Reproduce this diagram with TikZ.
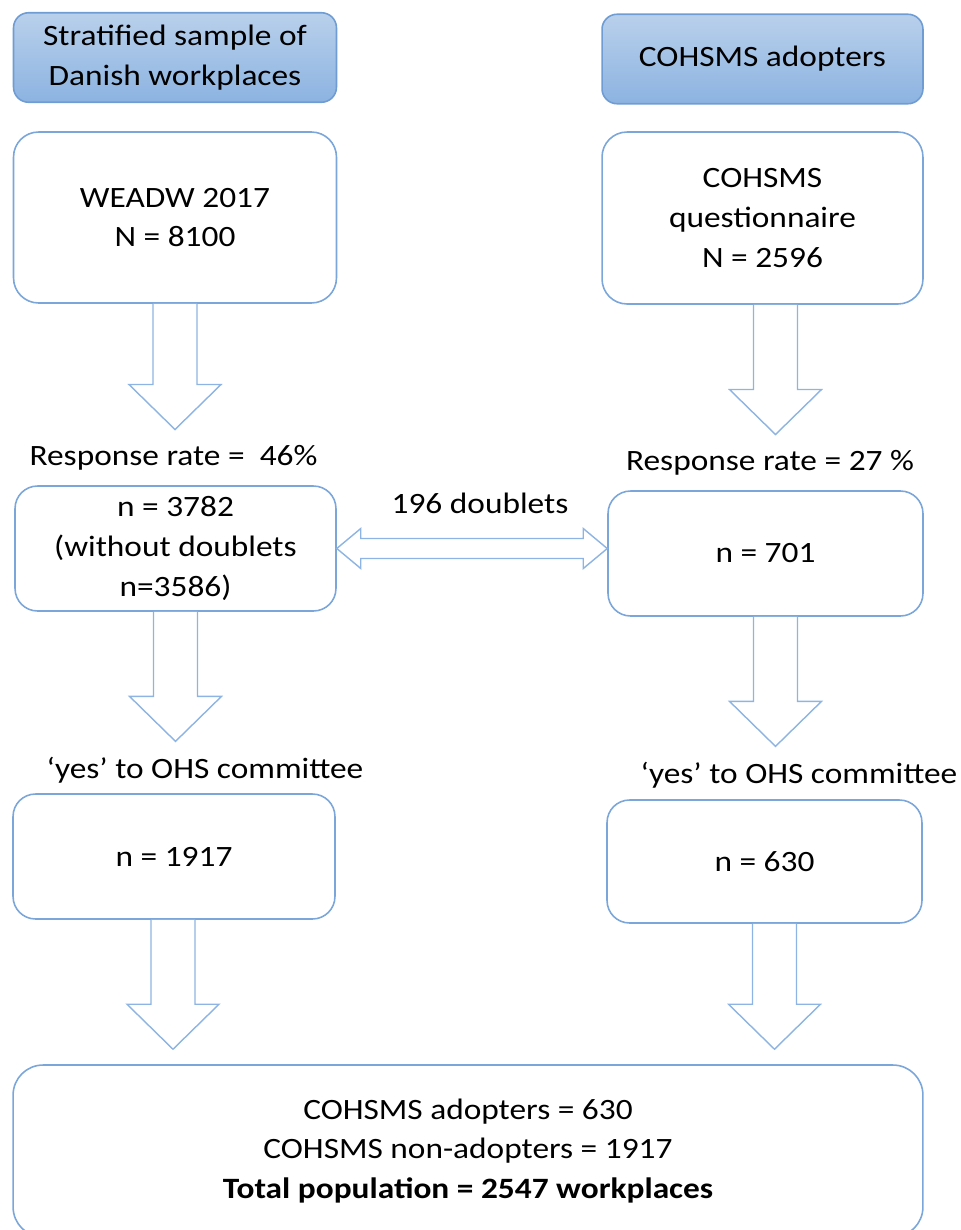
\documentclass[tikz,border=0pt]{standalone}
\usepackage{fontspec}
\setmainfont{Carlito}[FakeStretch=1.13]
\usepackage{xcolor}
\definecolor{boxline}{HTML}{7BA6DA}
\definecolor{arrline}{HTML}{8DB4E2}
\definecolor{hdrline}{HTML}{6F9CD3}
\definecolor{hdrtop}{HTML}{B9D0EB}
\definecolor{hdrbot}{HTML}{8CB3E1}
\usepackage{tikz}
\usetikzlibrary{calc}
\tikzset{
  hdr/.style   ={draw=hdrline,top color=hdrtop,bottom color=hdrbot,
                 rounded corners=0.3cm,line width=0.9pt,
                 minimum width=6.46cm,minimum height=1.79cm,align=center},
  stage/.style ={draw=boxline,fill=white,rounded corners=0.45cm,
                 line width=0.9pt,minimum width=6.46cm,
                 minimum height=2.5cm,align=center},
  lbl/.style   ={inner sep=0pt,anchor=base},
  blockarrow/.style={draw=arrline,fill=white,line width=0.8pt},
}
% hollow block arrow from the bottom of #2 down to just above #3
\newcommand{\blockdown}[3][0]{%
  \coordinate (sh) at ($(#2.south)+(#1,0)$);
  \coordinate (tp) at ($(sh |- #3.north)+(0,-15)$);
  \draw[blockarrow] ($(sh)+(-22,0)$) -- ($(tp)+(-22,-45)$) -- ($(tp)+(-46,-45)$)
    -- (tp) -- ($(tp)+(46,-45)$) -- ($(tp)+(22,-45)$) -- ($(sh)+(22,0)$);}

\begin{document}
\begin{tikzpicture}[x=0.02cm,y=-0.02cm,font=\fontsize{16.8}{22.6}\selectfont]
\useasboundingbox (0,0) rectangle (960,1230);
%---------------- headers
\node[hdr] (hdrL) at (175,57.5) {Stratified sample of\\Danish workplaces};
\node[hdr,minimum width=6.42cm] (hdrR) at (762.5,59) {COHSMS adopters};
%---------------- left column
\node[stage,minimum height=3.42cm,rounded corners=0.5cm] (wead) at (175,217.5) {WEADW 2017\\N = 8100};
\node[lbl] (rateL) at (173.5,465) {Response rate =\ \ 46\%};
\node[stage,minimum width=6.42cm] (respL) at (175.5,548.5) {n = 3782\\(without doublets\\n=3586)};
\node[lbl] (yesL) at (205,778) {‘yes’ to OHS committee};
\node[stage,minimum width=6.44cm] (ohsL) at (174,856.5) {n = 1917};
%---------------- right column
\node[stage,minimum width=6.42cm,minimum height=3.44cm,rounded corners=0.5cm] (quest) at (762.5,218) {COHSMS\\questionnaire\\N = 2596};
\node[lbl] (rateR) at (770,470) {Response rate = 27 \%};
\node[stage,minimum width=6.3cm] (respR) at (765.5,553.5) {n = 701};
\node[lbl] (yesR) at (799,783) {‘yes’ to OHS committee};
\node[stage,minimum width=6.3cm,minimum height=2.46cm] (ohsR) at (764.5,861.5) {n = 630};
%---------------- total
\node[stage,minimum width=18.2cm,minimum height=3.44cm,rounded corners=0.6cm] (total) at (468,1151)
  {COHSMS adopters = 630\\COHSMS non-adopters = 1917\\\textbf{Total population = 2547 workplaces}};
%---------------- arrows
\blockdown{wead}{rateL}
\blockdown{respL}{yesL}
\blockdown[-1]{ohsL}{total}
\blockdown[13]{quest}{rateR}
\blockdown[10]{respR}{yesR}
\blockdown[10]{ohsR}{total}
\node[lbl] (dbl) at (480,513) {196 doublets};
\coordinate (da) at (respL.east);
\coordinate (db) at (respR.west |- respL.east);
\draw[blockarrow] (da) -- ($(da)+(24,-20)$) -- ($(da)+(24,-10)$) -- ($(db)+(-24,-10)$)
  -- ($(db)+(-24,-20)$) -- (db) -- ($(db)+(-24,20)$) -- ($(db)+(-24,10)$)
  -- ($(da)+(24,10)$) -- ($(da)+(24,20)$) -- cycle;
\end{tikzpicture}
\end{document}
